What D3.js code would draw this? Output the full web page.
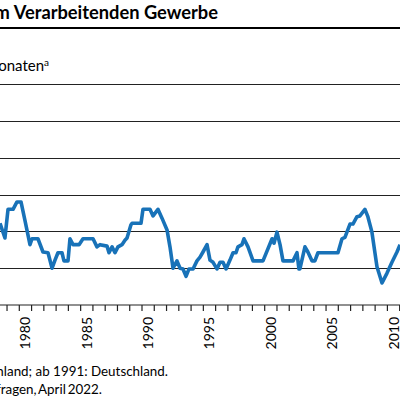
<!DOCTYPE html>
<html>
<head>
<meta charset="utf-8">
<script src="https://cdn.jsdelivr.net/npm/d3@7"></script>
<style>
  body { margin: 0; background: #fff; }
  svg { display: block; font-family: Lato, "Open Sans", sans-serif; }
</style>
</head>
<body>
<div id="chart"></div>
<script>
// Reichweite der Auftragsbestände (Monate), gelesen aus dem Bild
var years = [1978.43, 1978.83, 1979.08, 1979.49, 1979.81, 1980.14, 1980.46, 1980.87, 1981.04, 1981.52,
  1981.93, 1982.34, 1982.67, 1982.91, 1983.15, 1983.48, 1983.64, 1983.97, 1984.13, 1984.38,
  1984.87, 1985.19, 1986.01, 1986.33, 1986.58, 1987.15, 1987.31, 1987.56, 1987.80, 1988.04,
  1988.37, 1988.61, 1988.78, 1989.10, 1989.19, 1989.92, 1990.08, 1990.65, 1990.90, 1991.30,
  1991.63, 1992.04, 1992.28, 1992.53, 1992.85, 1993.10, 1993.34, 1993.59, 1993.83, 1994.16,
  1994.48, 1994.73, 1994.97, 1995.30, 1995.54, 1995.79, 1996.11, 1996.36, 1996.60, 1996.85,
  1997.17, 1997.42, 1997.66, 1997.82, 1998.15, 1998.31, 1998.64, 1999.05, 1999.86, 2000.60,
  2000.76, 2001.00, 2001.25, 2001.49, 2002.31, 2002.63, 2002.79, 2002.87, 2003.28, 2003.52,
  2003.85, 2004.09, 2004.34, 2004.66, 2005.97, 2006.30, 2006.54, 2006.95, 2007.19, 2007.52,
  2007.76, 2008.17, 2008.41, 2008.74, 2009.15, 2009.56, 2009.96, 2010.37, 2010.78, 2011.03];
var months = [3.11, 2.91, 3.30, 3.30, 3.40, 3.40, 3.15, 2.82, 2.90, 2.90,
  2.72, 2.71, 2.50, 2.61, 2.71, 2.71, 2.60, 2.60, 2.90, 2.82,
  2.82, 2.90, 2.90, 2.79, 2.82, 2.80, 2.71, 2.79, 2.71, 2.79,
  2.82, 2.88, 2.91, 3.09, 3.11, 3.11, 3.30, 3.30, 3.21, 3.30,
  3.18, 3.02, 2.79, 2.50, 2.60, 2.50, 2.49, 2.39, 2.49, 2.49,
  2.60, 2.65, 2.72, 2.82, 2.61, 2.58, 2.49, 2.58, 2.58, 2.49,
  2.61, 2.71, 2.71, 2.79, 2.82, 2.90, 2.79, 2.60, 2.60, 2.90,
  2.84, 2.99, 2.82, 2.60, 2.60, 2.71, 2.49, 2.49, 2.79, 2.72,
  2.60, 2.60, 2.71, 2.71, 2.71, 2.90, 2.92, 3.10, 3.10, 3.20,
  3.21, 3.30, 3.20, 2.99, 2.52, 2.30, 2.43, 2.58, 2.72, 2.82];
var gridValues = [2.5, 3, 3.5, 4, 4.5, 5];
var labelYears = [1975, 1980, 1985, 1990, 1995, 2000, 2005, 2010];

var width = 400, height = 400;

var x = d3.scaleLinear().domain([1980, 2010]).range([19.3, 387.4]);
var y = d3.scaleLinear().domain([2, 5]).range([305, 84.2]);

var svg = d3.select('#chart').append('svg')
    .attr('width', width)
    .attr('height', height);

// Titel (links abgeschnitten wie im Original)
svg.append('text')
    .attr('x', 218).attr('y', 19)
    .attr('text-anchor', 'end')
    .style('font-size', '18.3px')
    .style('font-weight', 'bold')
    .text('Auftragsbestände im Verarbeitenden Gewerbe');

svg.append('line')
    .attr('x1', 0).attr('x2', width)
    .attr('y1', 28).attr('y2', 28)
    .attr('stroke', '#000')
    .attr('stroke-width', 2);

var sub = svg.append('text')
    .attr('x', 49).attr('y', 71)
    .attr('text-anchor', 'end')
    .style('font-size', '15px');
sub.append('tspan').text('Reichweite in Monaten');
sub.append('tspan').attr('dy', -5).style('font-size', '10px').text('a');

// Gitterlinien
svg.append('g')
  .selectAll('line')
  .data(gridValues)
  .join('line')
    .attr('x1', 0).attr('x2', width)
    .attr('y1', function(d) { return Math.round(y(d)) + 0.5; })
    .attr('y2', function(d) { return Math.round(y(d)) + 0.5; })
    .attr('stroke', '#222')
    .attr('stroke-width', 1.2);

// x-Achse: Jahresstriche, Beschriftung in der Jahresmitte
var xAxis = svg.append('g')
    .attr('transform', 'translate(0,' + y(2) + ')');
xAxis.append('line')
    .attr('x1', 0).attr('x2', width)
    .attr('stroke', '#222')
    .attr('stroke-width', 1.2);
xAxis.selectAll('line.tick')
  .data(d3.range(1977, 2013))
  .join('line')
    .attr('class', 'tick')
    .attr('x1', function(d) { return x(d); })
    .attr('x2', function(d) { return x(d); })
    .attr('y1', 0).attr('y2', 6)
    .attr('stroke', '#222')
    .attr('stroke-width', 1.2);
xAxis.selectAll('text')
  .data(labelYears)
  .join('text')
    .attr('transform', function(d) {
      return 'translate(' + (x(d + 0.5) + 5) + ',12) rotate(-90)';
    })
    .attr('text-anchor', 'end')
    .style('font-size', '14px')
    .text(function(d) { return d; });

// Linie
var data = years.map(function(d, i) { return [d, months[i]]; });
var line = d3.line()
    .x(function(d) { return x(d[0]); })
    .y(function(d) { return y(d[1]); });

svg.append('path')
    .datum(data)
    .attr('d', line)
    .attr('fill', 'none')
    .attr('stroke', '#1872b8')
    .attr('stroke-width', 3.6)
    .attr('stroke-linejoin', 'round');

// Fußnoten
svg.append('text')
    .attr('x', 168).attr('y', 376)
    .attr('text-anchor', 'end')
    .style('font-size', '13.4px')
    .text('a Bis 1990: Westdeutschland; ab 1991: Deutschland.');
svg.append('text')
    .attr('x', 102).attr('y', 394)
    .attr('text-anchor', 'end')
    .style('font-size', '13.4px')
    .style('word-spacing', '-1.5px')
    .text('Quelle: ifo Konjunkturumfragen, April 2022.');
</script>
</body>
</html>
